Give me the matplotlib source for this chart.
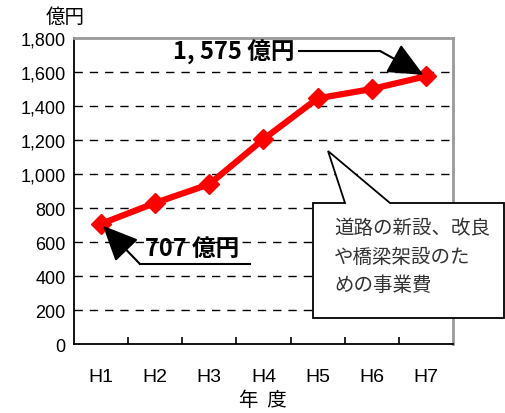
import matplotlib
matplotlib.use('Agg')
import matplotlib.pyplot as plt
from matplotlib.patches import Polygon

# データ (億円)
nendo = ['H1', 'H2', 'H3', 'H4', 'H5', 'H6', 'H7']
jigyohi = [707, 830, 940, 1205, 1445, 1500, 1575]
yticks = [0, 200, 400, 600, 800, 1000, 1200, 1400, 1600, 1800]
ytick_labels = ['0', '200', '400', '600', '800', '1,000', '1,200', '1,400', '1,600', '1,800']

W, H = 506, 414
jp = ['Noto Sans CJK JP', 'DejaVu Sans']
plt.rcParams['font.family'] = ['Liberation Sans', 'Noto Sans CJK JP']

fig = plt.figure(figsize=(W / 100, H / 100), dpi=100)
ax = fig.add_axes([74 / W, 1 - 345 / H, 379 / W, 306 / H])

def px(x, y):
    # ピクセル位置 -> figure座標
    return (x / W, 1 - y / H)

x = list(range(len(nendo)))
ax.plot(x, jigyohi, color='#ff0000', lw=4.5, marker='D', markersize=10,
        zorder=5, clip_on=False)

ax.set_xlim(-0.5, len(nendo) - 0.5)
ax.set_ylim(0, 1800)
ax.set_yticks(yticks)
ax.set_yticklabels(ytick_labels, fontsize=13)
ax.set_xticks(x)
ax.set_xticklabels(nendo, fontsize=14)
ax.set_xticks([i + 0.5 for i in x[:-1]], minor=True)
ax.tick_params(axis='x', which='major', length=0, pad=17)
ax.tick_params(axis='x', which='minor', direction='in', length=5, width=1.2)
ax.tick_params(axis='y', length=0, pad=6)

for v in yticks[1:-1]:
    ax.axhline(v, color='black', lw=1, ls=(0, (6, 5)), zorder=1)

for s in ['left', 'bottom']:
    ax.spines[s].set_color('black')
    ax.spines[s].set_linewidth(1.3)
for s in ['top', 'right']:
    ax.spines[s].set_color('#999999')
    ax.spines[s].set_linewidth(2)

fig.text(*px(65, 17), '億円', family=jp, fontsize=14, ha='center', va='center')
fig.text(*px(263, 401), '年  度', family=jp, fontsize=14, ha='center', va='center')

arrow = dict(arrowstyle='-|>,head_length=1.1,head_width=0.5', mutation_scale=20,
             color='black', lw=1.5, shrinkA=0, shrinkB=2)

# 注記 1,575億円
ax.text(1.33, 1724, '1, 575 億円', family=jp, fontsize=17, fontweight='bold',
        ha='left', va='center', zorder=6)
ax.plot([3.66, 5.15], [1724, 1724], color='black', lw=1.5, zorder=6)
ax.annotate('', xy=(6, 1575), xytext=(5.15, 1724), arrowprops=arrow, zorder=6)

# 注記 707億円
ax.text(0.81, 565, '707 億円', family=jp, fontsize=17, fontweight='bold',
        ha='left', va='center', zorder=6)
ax.plot([0.72, 2.75], [470, 470], color='black', lw=1.5, zorder=6)
ax.annotate('', xy=(0, 707), xytext=(0.72, 470), arrowprops=arrow, zorder=6)

# 吹き出し
pts = [px(313, 204), px(345, 204), px(328, 152), px(390, 204), px(504, 204),
       px(504, 319), px(313, 319)]
fig.patches.append(Polygon(pts, closed=True, transform=fig.transFigure,
                           facecolor='white', edgecolor='black', lw=1.3, zorder=10))
lines = ['道路の新設、改良', 'や橋梁架設のた', 'めの事業費']
for i, line in enumerate(lines):
    fig.text(*px(334, 229 + i * 28.5), line, family=jp, fontsize=14,
             color='#333333', ha='left', va='center', zorder=11)

fig.savefig('out.png', dpi=100)
